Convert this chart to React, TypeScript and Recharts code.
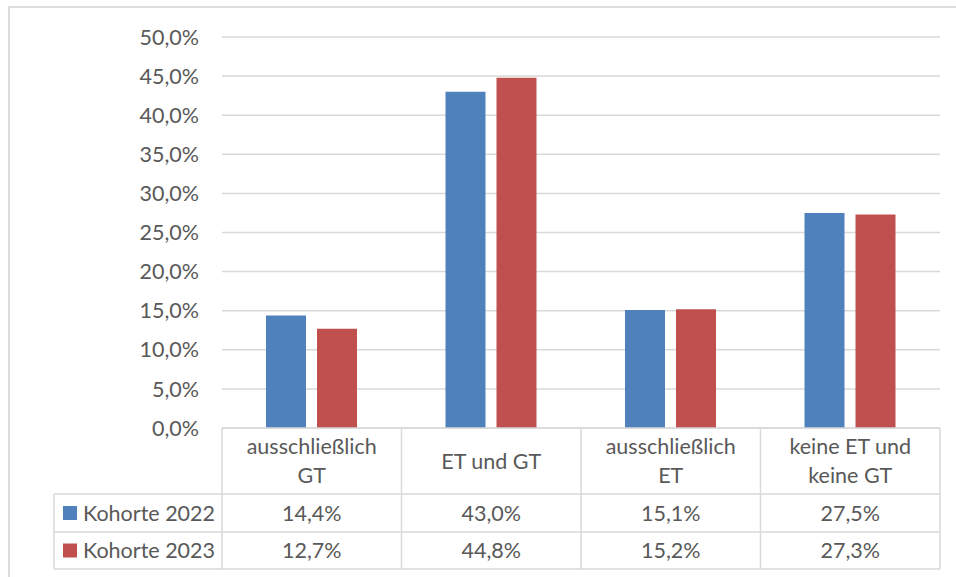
import { BarChart, Bar, XAxis, YAxis, CartesianGrid } from 'recharts';

const categories = ['ausschließlich\nGT', 'ET und GT', 'ausschließlich\nET', 'keine ET und\nkeine GT'];
const kohorte2022 = [14.4, 43.0, 15.1, 27.5];
const kohorte2023 = [12.7, 44.8, 15.2, 27.3];
const yTicks = [0, 5, 10, 15, 20, 25, 30, 35, 40, 45, 50];

const seriesNames = ['Kohorte 2022', 'Kohorte 2023'];
const seriesColors = ['#4F81BD', '#C0504D'];

const data = categories.map((c, i) => ({
  cat: c,
  k2022: kohorte2022[i],
  k2023: kohorte2023[i],
}));

const W = 956;
const H = 577;
const LEFT = 222;
const RIGHT = 16;
const TOP = 37;
const XAXIS_H = 149;
const BAND = (W - LEFT - RIGHT) / categories.length;
const ROW1 = 494 - 428;
const ROW2 = 532 - 428;
const ROW3 = 569 - 428;
const LEGEND_X = 54;
const LINE = '#d9d9d9';
const TXT = '#595959';
const FONT = 'Lato, "Noto Sans", sans-serif';
const FS = 21.5;

const fmt = (v: number) => v.toFixed(1).replace('.', ',') + '%';

function TableTick(props: any) {
  const { x, y, payload, index } = props;
  const left = x - BAND / 2;
  const right = x + BAND / 2;
  const lines = String(payload.value).split('\n');
  const headMid = y + ROW1 / 2;
  const vals = [kohorte2022[index], kohorte2023[index]];
  return (
    <g>
      {index === 0 && (
        <g>
          <line x1={left} y1={y} x2={left} y2={y + ROW3} stroke={LINE} strokeWidth={1.5} />
          <line x1={LEGEND_X} y1={y + ROW1} x2={left} y2={y + ROW1} stroke={LINE} strokeWidth={1.5} />
          <line x1={LEGEND_X} y1={y + ROW2} x2={left} y2={y + ROW2} stroke={LINE} strokeWidth={1.5} />
          <line x1={LEGEND_X} y1={y + ROW3} x2={left} y2={y + ROW3} stroke={LINE} strokeWidth={1.5} />
          <line x1={LEGEND_X} y1={y + ROW1} x2={LEGEND_X} y2={y + ROW3} stroke={LINE} strokeWidth={1.5} />
          {seriesNames.map((n, i) => {
            const cy = y + (i === 0 ? (ROW1 + ROW2) / 2 : (ROW2 + ROW3) / 2);
            return (
              <g key={n}>
                <rect x={63} y={cy - 7} width={14} height={14} fill={seriesColors[i]} />
                <text x={83} y={cy} dy="0.36em" fontSize={FS} fill={TXT} fontFamily={FONT}>
                  {n}
                </text>
              </g>
            );
          })}
        </g>
      )}
      <line x1={right} y1={y} x2={right} y2={y + ROW3} stroke={LINE} strokeWidth={1.5} />
      <line x1={left} y1={y + ROW1} x2={right} y2={y + ROW1} stroke={LINE} strokeWidth={1.5} />
      <line x1={left} y1={y + ROW2} x2={right} y2={y + ROW2} stroke={LINE} strokeWidth={1.5} />
      <line x1={left} y1={y + ROW3} x2={right} y2={y + ROW3} stroke={LINE} strokeWidth={1.5} />
      {lines.map((l, i) => (
        <text
          key={i}
          x={x}
          y={headMid + (i - (lines.length - 1) / 2) * 29}
          dy="0.36em"
          textAnchor="middle"
          fontSize={FS}
          fill={TXT}
          fontFamily={FONT}
        >
          {l}
        </text>
      ))}
      {vals.map((v, i) => (
        <text
          key={'v' + i}
          x={x}
          y={y + (i === 0 ? (ROW1 + ROW2) / 2 : (ROW2 + ROW3) / 2)}
          dy="0.36em"
          textAnchor="middle"
          fontSize={FS}
          fill={TXT}
          fontFamily={FONT}
        >
          {fmt(v)}
        </text>
      ))}
    </g>
  );
}

export default function App() {
  return (
    <div style={{ position: 'absolute', left: 0, top: 0, width: W, height: H, background: '#fff', overflow: 'hidden' }}>
      <div
        style={{
          position: 'absolute',
          left: 8,
          top: 6,
          width: W,
          height: H,
          border: '2px solid #dcdcdc',
        }}
      />
      <BarChart
        width={W}
        height={H}
        data={data}
        margin={{ top: TOP, right: RIGHT, left: 0, bottom: 0 }}
        barSize={40}
        barGap={11}
      >
        <CartesianGrid vertical={false} stroke={LINE} strokeWidth={1.5} />
        <XAxis
          dataKey="cat"
          height={XAXIS_H}
          axisLine={{ stroke: LINE, strokeWidth: 1.5 }}
          tickLine={false}
          tickSize={0}
          tickMargin={0}
          interval={0}
          tick={<TableTick />}
        />
        <YAxis
          width={LEFT}
          domain={[0, 50]}
          ticks={yTicks}
          tickFormatter={fmt}
          axisLine={false}
          tickLine={false}
          tickSize={0}
          tickMargin={23}
          tick={{ fontSize: FS, fill: TXT, fontFamily: FONT }}
        />
        <Bar dataKey="k2022" name={seriesNames[0]} fill={seriesColors[0]} isAnimationActive={false} />
        <Bar dataKey="k2023" name={seriesNames[1]} fill={seriesColors[1]} isAnimationActive={false} />
      </BarChart>
    </div>
  );
}
